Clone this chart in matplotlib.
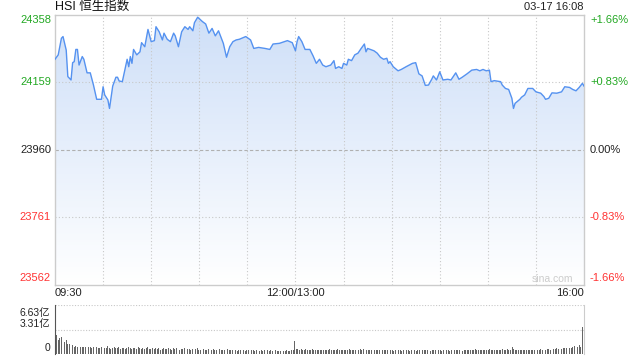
import numpy as np
import matplotlib
matplotlib.use('Agg')
import matplotlib.pyplot as plt
from matplotlib.patches import Polygon
from matplotlib.colors import LinearSegmentedColormap

plt.rcParams['font.family'] = ['Liberation Sans', 'Noto Sans CJK SC', 'DejaVu Sans']

# minutes after 09:30 (lunch break removed, 150 = 12:00/13:00, 330 = 16:00)
minutes = [0, 2, 4, 5, 7, 8, 10, 11, 12, 13, 14, 15, 17, 18, 20, 22, 24, 26, 29, 30,
           31, 33, 34, 36, 38, 39, 40, 42, 44, 45, 46, 47, 48, 49, 51, 53, 54, 56, 58, 60,
           62, 63, 65, 67, 68, 70, 72, 74, 75, 77, 79, 81, 83, 84, 86, 87, 89, 92, 94, 96,
           98, 100, 102, 105, 107, 109, 111, 113, 115, 119, 122, 124, 127, 131, 134, 136, 140, 145, 148, 150,
           151, 152, 154, 156, 159, 161, 163, 165, 167, 169, 172, 174, 175, 177, 179, 180, 182, 183, 185, 187,
           189, 191, 193, 194, 195, 199, 201, 203, 205, 207, 208, 209, 211, 214, 216, 219, 223, 225, 227, 229,
           231, 233, 235, 236, 238, 240, 242, 245, 247, 250, 252, 254, 257, 260, 263, 265, 267, 269, 271, 272,
           274, 278, 279, 281, 283, 285, 286, 287, 290, 291, 293, 295, 298, 300, 303, 305, 306, 308, 310, 313,
           316, 318, 321, 323, 325, 327, 329, 330]
price = [24226, 24239, 24288, 24293, 24253, 24175, 24165, 24216, 24219, 24255, 24255, 24209, 24234, 24226, 24186, 24186, 24150, 24108, 24108, 24145,
         24121, 24106, 24081, 24147, 24173, 24173, 24162, 24160, 24204, 24226, 24204, 24234, 24214, 24255, 24239, 24248, 24275, 24263, 24314, 24278,
         24281, 24322, 24307, 24283, 24303, 24285, 24278, 24303, 24295, 24263, 24307, 24322, 24314, 24322, 24310, 24334, 24350, 24337, 24330, 24303,
         24317, 24295, 24310, 24273, 24232, 24263, 24278, 24283, 24285, 24293, 24283, 24258, 24261, 24258, 24255, 24271, 24273, 24281, 24275, 24251,
         24278, 24293, 24278, 24255, 24255, 24236, 24214, 24226, 24209, 24204, 24209, 24222, 24199, 24204, 24199, 24214, 24209, 24226, 24222, 24239,
         24244, 24258, 24271, 24248, 24258, 24251, 24244, 24232, 24226, 24229, 24214, 24219, 24204, 24192, 24196, 24204, 24214, 24216, 24183, 24177,
         24149, 24150, 24167, 24177, 24165, 24189, 24165, 24167, 24165, 24186, 24167, 24173, 24183, 24194, 24196, 24192, 24196, 24192, 24194, 24160,
         24163, 24160, 24150, 24140, 24137, 24111, 24081, 24096, 24108, 24114, 24121, 24140, 24140, 24130, 24126, 24116, 24108, 24111, 24127, 24126,
         24130, 24145, 24143, 24137, 24133, 24143, 24155, 24147]

prev_close = 23960
price_ticks = [24358, 24159, 23960, 23761, 23562]
pct_labels = ['+1.66%', '+0.83%', '0.00%', '-0.83%', '-1.66%']
time_labels = ['09:30', '12:00/13:00', '16:00']

# volume in 亿, one bar per minute
vol_morning = [6.63, 2.60, 1.90, 2.10, 2.30, 1.60, 1.60, 1.90, 1.40, 1.30,
               1.30, 1.20, 1.00, 1.10, 0.95, 0.95, 0.90, 0.90, 0.95, 0.90,
               0.85, 0.90, 0.90, 0.80, 0.95, 0.90, 1.00, 0.85, 0.80, 0.95,
               0.90, 0.75, 0.85, 1.05, 0.80, 0.70, 0.85, 0.90, 0.75, 0.80,
               0.95, 0.70, 0.80, 0.85, 0.70, 0.75, 0.90, 0.80, 0.70, 0.75,
               0.80, 0.70, 0.95, 0.75, 0.70, 0.80, 0.65, 0.75, 0.90, 0.70,
               0.70, 0.80, 0.65, 0.75, 0.70, 0.85, 0.60, 0.70, 0.75, 0.65,
               0.70, 0.80, 0.65, 0.60, 0.75, 0.70, 0.80, 0.65, 0.60, 0.70,
               0.65, 0.75, 0.60, 0.70, 0.65, 0.55, 0.70, 0.60, 0.65, 0.75,
               0.60, 0.55, 0.65, 0.70, 0.55, 0.60, 0.65, 0.55, 0.60, 0.70,
               0.55, 0.60, 0.50, 0.65, 0.55, 0.60, 0.50, 0.55, 0.65, 0.50,
               0.55, 0.60, 0.50, 0.55, 0.45, 0.60, 0.50, 0.55, 0.50, 0.45,
               0.55, 0.50, 0.45, 0.55, 0.50, 0.45, 0.50, 0.55, 0.45, 0.50,
               0.45, 0.50, 0.40, 0.50, 0.45, 0.55, 0.45, 0.40, 0.50, 0.45,
               0.40, 0.45, 0.50, 0.40, 0.45, 0.50, 0.40, 0.45, 0.50, 0.55]
vol_afternoon = [1.70, 0.70, 0.65, 0.60, 0.70, 0.55, 0.60, 0.65, 0.55, 0.60,
                 0.55, 0.65, 0.50, 0.60, 0.55, 0.50, 0.60, 0.55, 0.50, 0.60,
                 0.55, 0.50, 0.65, 0.55, 0.50, 0.60, 0.55, 0.70, 0.60, 0.55,
                 0.50, 0.60, 0.55, 0.50, 0.65, 0.55, 0.50, 0.60, 0.55, 0.50,
                 0.60, 0.65, 0.55, 0.70, 0.60, 0.55, 0.50, 0.60, 0.55, 0.50,
                 0.55, 0.60, 0.50, 0.55, 0.60, 0.50, 0.55, 0.50, 0.60, 0.55,
                 0.50, 0.55, 0.45, 0.55, 0.50, 0.60, 0.50, 0.45, 0.55, 0.50,
                 0.55, 0.50, 0.45, 0.60, 0.50, 0.55, 0.45, 0.50, 0.55, 0.60,
                 0.55, 0.50, 0.60, 0.55, 0.50, 0.45, 0.55, 0.50, 0.60, 0.55,
                 0.50, 0.55, 0.45, 0.50, 0.55, 0.60, 0.50, 0.45, 0.55, 0.50,
                 0.55, 0.50, 0.60, 0.55, 0.50, 0.45, 0.55, 0.60, 0.50, 0.55,
                 0.60, 0.55, 0.50, 0.65, 0.55, 0.50, 0.60, 0.55, 0.50, 0.55,
                 0.60, 0.55, 0.65, 0.50, 0.55, 0.60, 0.50, 0.55, 0.60, 0.55,
                 0.65, 0.60, 0.55, 0.70, 0.60, 0.55, 0.90, 0.65, 0.60, 0.55,
                 0.50, 0.55, 0.60, 0.50, 0.55, 0.50, 0.60, 0.55, 0.50, 0.55,
                 0.60, 0.55, 0.50, 0.60, 0.65, 0.55, 0.70, 0.60, 0.65, 0.70,
                 0.60, 0.75, 0.65, 0.70, 0.80, 0.65, 0.75, 0.70, 0.85, 0.75,
                 0.80, 0.70, 0.85, 0.75, 0.90, 1.10, 0.85, 0.95, 1.20, 1.00,
                 3.65]
vol_max = 6.63
vol_mid = 3.31

W, H = 640, 360
def fx(px):
    return px / W
def fy(py):
    return 1 - py / H

green = '#22a822'
red = '#ff3333'
line_col = '#5592f0'

fig = plt.figure(figsize=(6.4, 3.6), dpi=100)
ax = fig.add_axes([fx(55), fy(284.5), fx(584) - fx(55), fy(14.5) - fy(284.5)])
ymin, ymax = price_ticks[-1], price_ticks[0]
ax.set_xlim(0, 330)
ax.set_ylim(ymin, ymax)

# gradient fill under the line
verts = [(minutes[0], ymin)] + list(zip(minutes, price)) + [(minutes[-1], ymin)]
poly = Polygon(verts, closed=True, facecolor='none', edgecolor='none')
ax.add_patch(poly)
cmap = LinearSegmentedColormap.from_list('fill', ['#ffffff', '#cedff8'])
grad = np.linspace(0, 1, 256).reshape(-1, 1)
im = ax.imshow(grad, extent=[0, 330, ymin, ymax], origin='lower', aspect='auto',
               cmap=cmap, zorder=1)
im.set_clip_path(poly)

ax.plot(minutes, price, color=line_col, linewidth=1.0, zorder=4)

# grid
for m in range(30, 330, 30):
    ax.axvline(m, color='#c8c8c8', linewidth=0.8, linestyle=(0, (1, 2)), zorder=2)
for v in [price_ticks[1], price_ticks[3]]:
    ax.axhline(v, color='#c8c8c8', linewidth=0.8, linestyle=(0, (1, 2)), zorder=2)
ax.axhline(prev_close, color='#b0b0b0', linewidth=0.8, linestyle=(0, (3, 2)), zorder=2)

for s in ax.spines.values():
    s.set_color('#cccccc')
    s.set_linewidth(1)
ax.set_xticks([])
ax.set_yticks([])

# price labels (top and bottom ones sit inside the frame)
label_cols = [green, green, '#222222', red, red]
offsets = [5.5, 0, 0, 0, -6.5]
for v, pl, c, off in zip(price_ticks, pct_labels, label_cols, offsets):
    ypx = 14.5 + (ymax - v) / (ymax - ymin) * 270 + off
    fig.text(fx(51), fy(ypx), str(v), ha='right', va='center', fontsize=8, color=c)
    fig.text(fx(590), fy(ypx), pl, ha='left', va='center', fontsize=8, color=c)

# time labels
fig.text(fx(55), fy(293), time_labels[0], ha='left', va='center', fontsize=8, color='#222222')
fig.text(fx(295), fy(293), time_labels[1], ha='center', va='center', fontsize=8, color='#222222')
fig.text(fx(584), fy(293), time_labels[2], ha='right', va='center', fontsize=8, color='#222222')

fig.text(fx(55), fy(7), 'HSI 恒生指数', ha='left', va='center', fontsize=9, color='#111111')
fig.text(fx(584), fy(7), '03-17 16:08', ha='right', va='center', fontsize=8, color='#222222')
fig.text(fx(573), fy(279), 'sina.com', ha='right', va='center', fontsize=7.5, color='#cccccc')

# volume panel
axv = fig.add_axes([fx(55), fy(354), fx(584) - fx(55), fy(305) - fy(354)])
vol = vol_morning + vol_afternoon
vx = list(range(0, 150)) + list(range(150, 331))
axv.bar(vx, vol, width=0.55, color='#666666', linewidth=0)
axv.set_xlim(0, 331)
axv.set_ylim(0, vol_max)
axv.axhline(vol_max, color='#c8c8c8', linewidth=0.8, linestyle=(0, (1, 1.5)), zorder=0)
axv.axhline(vol_mid, color='#c8c8c8', linewidth=0.8, linestyle=(0, (1, 1.5)), zorder=0)
axv.set_xticks([])
axv.set_yticks([])
for k in ['top', 'bottom']:
    axv.spines[k].set_visible(False)
axv.spines['left'].set_color('#555555')
axv.spines['right'].set_color('#cccccc')
fig.text(fx(50), fy(313), f'{vol_max:.2f}亿', ha='right', va='center', fontsize=7.5, color='#222222')
fig.text(fx(50), fy(323.5), f'{vol_mid:.2f}亿', ha='right', va='center', fontsize=7.5, color='#222222')
fig.text(fx(50), fy(348), '0', ha='right', va='center', fontsize=7.5, color='#222222')

fig.savefig('out.png', dpi=100)
